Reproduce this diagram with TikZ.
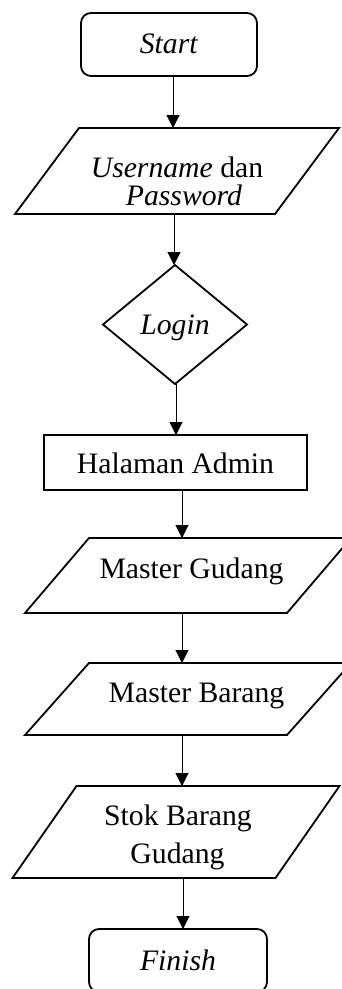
\documentclass[tikz,border=0pt]{standalone}
\usepackage{fontspec}
\setmainfont{Liberation Serif}
\usetikzlibrary{shapes.geometric,arrows.meta}
\newcommand\tline[3]{\raisebox{#2}[0pt][0pt]{\makebox[0pt]{\hspace*{#1}#3}}}
\begin{document}
\begin{tikzpicture}[x=1pt,y=-1pt,
  every node/.style={inner sep=0pt,outer sep=0pt,font=\fontsize{29.7}{34}\selectfont},
  term/.style={draw,line width=1.8pt,rounded corners=10pt,minimum width=#1,minimum height=63pt},
  procbox/.style={draw,line width=1.8pt,minimum width=263pt,minimum height=55pt},
  decis/.style={draw,line width=1.8pt,diamond,minimum width=144pt,minimum height=119pt},
  iobox/.style={minimum width=262pt,minimum height=#1},
  ioline/.style={line width=1.8pt,line join=miter},
  arr/.style={line width=1pt,-{Triangle[length=13pt,width=13pt]}}]
\useasboundingbox (0,0) rectangle (342,989);
\node[term=176pt] (start) at (169,44.5) {\tline{0pt}{-8.5pt}{\textit{Start}}};
\node[iobox=86pt,minimum width=260pt] (user) at (177,171)
  {\tline{0pt}{-6pt}{\textit{Username} dan}\tline{14pt}{-34pt}{\textit{Password}}};
\node[decis] (login) at (175,324.5) {\tline{0pt}{-10pt}{\textit{Login}}};
\node[procbox] (admin) at (175.5,462.5) {\tline{0pt}{-10.5pt}{Halaman Admin}};
\node[iobox=75pt] (mg) at (188,575.5) {\tline{7pt}{-2.5pt}{Master Gudang}};
\node[iobox=72pt] (mb) at (188,699) {\tline{17pt}{-3pt}{Master Barang}};
\node[iobox=92pt,minimum width=263pt] (stok) at (176,832)
  {\tline{4pt}{7pt}{Stok Barang}\tline{3pt}{-31pt}{Gudang}};
\node[term=178pt] (finish) at (178,960.5) {\tline{0pt}{-9.5pt}{\textit{Finish}}};
\foreach \n in {user,mg,mb,stok}
  \draw[ioline] ([xshift=32pt]\n.north west) -- ([xshift=32pt]\n.north east)
    -- ([xshift=-32pt]\n.south east) -- ([xshift=-32pt]\n.south west) -- cycle;
\draw[arr] ([xshift=4pt]start.south) -- ([xshift=4pt]start.south |- user.north);
\draw[arr] ([xshift=-1pt]login.north |- user.south) -- ([xshift=-1pt]login.north);
\draw[arr] ([xshift=1pt]login.south) -- ([xshift=1pt]login.south |- admin.north);
\draw[arr] ([xshift=6.5pt]admin.south) -- ([xshift=6.5pt]admin.south |- mg.north);
\draw[arr] ([xshift=-6pt]mg.south) -- ([xshift=-6pt]mg.south |- mb.north);
\draw[arr] ([xshift=-6pt]mb.south) -- ([xshift=-6pt]mb.south |- stok.north);
\draw[arr] ([xshift=5pt]finish.north |- stok.south) -- ([xshift=5pt]finish.north);
\end{tikzpicture}
\end{document}
